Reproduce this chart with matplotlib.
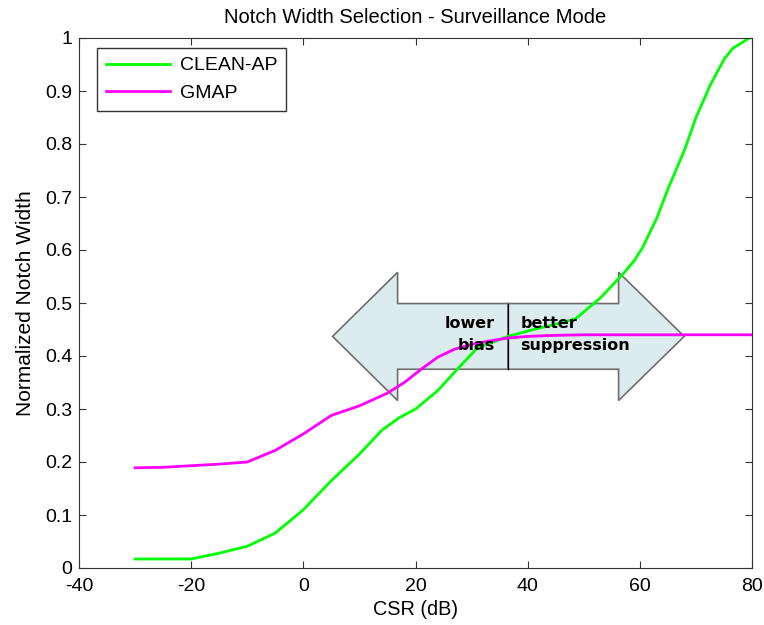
import matplotlib
matplotlib.use('Agg')
import matplotlib.pyplot as plt
from matplotlib.patches import Polygon

plt.rcParams['font.family'] = ['Liberation Sans', 'DejaVu Sans']
plt.rcParams['axes.unicode_minus'] = False

# CLEAN-AP curve
clean_x = [-30, -25, -20, -15, -10, -5, 0, 5, 10, 14, 17, 20, 24, 27, 31, 36.5, 41, 45, 48.5, 53, 57, 59, 60.5, 63, 65, 68, 70, 72.5, 75, 76.5, 78, 79.5]
clean_y = [0.017, 0.017, 0.017, 0.028, 0.041, 0.066, 0.11, 0.165, 0.215, 0.26, 0.283, 0.30, 0.335, 0.37, 0.415, 0.437, 0.45, 0.46, 0.47, 0.51, 0.555, 0.58, 0.605, 0.66, 0.715, 0.79, 0.85, 0.91, 0.96, 0.98, 0.99, 1.0]

# GMAP curve
gmap_x = [-30, -25, -20, -15, -10, -5, 0, 5, 10, 15, 18, 21, 24, 27, 30, 33, 36.5, 40, 45, 50, 60, 70, 80]
gmap_y = [0.189, 0.19, 0.193, 0.196, 0.2, 0.222, 0.253, 0.288, 0.306, 0.33, 0.35, 0.375, 0.398, 0.413, 0.422, 0.428, 0.434, 0.437, 0.439, 0.44, 0.44, 0.44, 0.44]

x_ticks = [-40, -20, 0, 20, 40, 60, 80]
y_ticks = [0, 0.1, 0.2, 0.3, 0.4, 0.5, 0.6, 0.7, 0.8, 0.9, 1]
y_ticklabels = ['0', '0.1', '0.2', '0.3', '0.4', '0.5', '0.6', '0.7', '0.8', '0.9', '1']

# annotation arrows (data units)
arr_tip_left, arr_head_left, arr_mid, arr_head_right, arr_tip_right = 5.2, 16.8, 36.5, 56.2, 67.9
arr_yc, arr_body_half, arr_head_half = 0.437, 0.062, 0.121

fig = plt.figure(figsize=(7.64, 6.25), dpi=100)
ax = fig.add_axes([0.1034, 0.0912, 0.881, 0.848])

face = '#dcebee'
edge = '#6e6e6e'
left_arrow = [
    (arr_tip_left, arr_yc),
    (arr_head_left, arr_yc + arr_head_half),
    (arr_head_left, arr_yc + arr_body_half),
    (arr_mid, arr_yc + arr_body_half),
    (arr_mid, arr_yc - arr_body_half),
    (arr_head_left, arr_yc - arr_body_half),
    (arr_head_left, arr_yc - arr_head_half),
]
right_arrow = [
    (arr_tip_right, arr_yc),
    (arr_head_right, arr_yc + arr_head_half),
    (arr_head_right, arr_yc + arr_body_half),
    (arr_mid, arr_yc + arr_body_half),
    (arr_mid, arr_yc - arr_body_half),
    (arr_head_right, arr_yc - arr_body_half),
    (arr_head_right, arr_yc - arr_head_half),
]
for verts in (left_arrow, right_arrow):
    ax.add_patch(Polygon(verts, closed=True, facecolor=face, edgecolor=edge, linewidth=1.2, zorder=1))
ax.plot([arr_mid, arr_mid], [arr_yc - arr_body_half, arr_yc + arr_body_half], color='black', linewidth=0.9, zorder=1.5)

ax.plot(clean_x, clean_y, color='#00ff00', linewidth=2, label='CLEAN-AP', zorder=2)
ax.plot(gmap_x, gmap_y, color='#ff00ff', linewidth=2, label='GMAP', zorder=2)

ax.text(arr_mid - 2.3, arr_yc + 0.0035, 'lower\nbias', ha='right', va='center', fontsize=11.5,
        fontweight='bold', family=['DejaVu Sans'], linespacing=1.55, zorder=3)
ax.text(arr_mid + 2.2, arr_yc + 0.0035, 'better\nsuppression', ha='left', va='center', fontsize=11.5,
        fontweight='bold', family=['DejaVu Sans'], linespacing=1.55, zorder=3)

ax.set_xlim(-40, 80)
ax.set_ylim(0, 1)
ax.set_xticks(x_ticks)
ax.set_yticks(y_ticks)
ax.set_yticklabels(y_ticklabels)
ax.tick_params(direction='in', top=True, right=True, labelsize=14, length=5, color='#333333')
ax.tick_params(axis='x', pad=7)
ax.tick_params(axis='y', pad=5)
for s in ax.spines.values():
    s.set_color('#333333')
ax.set_xlabel('CSR (dB)', fontsize=14.3, labelpad=4)
ax.set_ylabel('Normalized Notch Width', fontsize=15, labelpad=7)
ax.set_title('Notch Width Selection - Surveillance Mode', fontsize=14.5, pad=11)

leg = ax.legend(loc='upper left', fontsize=14, frameon=True, fancybox=False, edgecolor='black',
                handlelength=3.3, handletextpad=0.5, borderpad=0.45, borderaxespad=0,
                bbox_to_anchor=(0.0267, 0.981))
leg.get_frame().set_linewidth(1.0)

fig.savefig('out.png', dpi=100, facecolor='white')
